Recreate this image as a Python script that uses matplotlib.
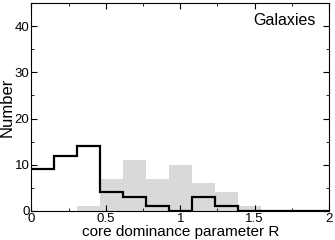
import numpy as np
import matplotlib.pyplot as plt
from matplotlib.ticker import MultipleLocator

plt.rcParams['font.family'] = ['Liberation Sans', 'DejaVu Sans']

# bin edges of the histograms (width ~0.154)
bin_width = 0.154
n_bins = 10
edges = np.arange(n_bins + 1) * bin_width

# black outline histogram
counts_line = [9, 12, 14, 4, 3, 1, 0, 3, 1, 0]
# grey filled histogram
counts_fill = [0, 0, 1, 7, 11, 7, 10, 6, 4, 1]

fig = plt.figure(figsize=(3.35, 2.4), dpi=100)
ax = fig.add_axes([0.094, 0.121, 0.888, 0.866])

ax.stairs(counts_fill, edges, fill=True, color='#d9d9d9', linewidth=0)
line_edges = np.append(edges, 2.0)
line_counts = counts_line + [0]
ax.stairs(line_counts, line_edges, baseline=None, color='black', linewidth=1.6)

ax.set_xlim(0, 2)
ax.set_ylim(0, 45)
ax.xaxis.set_major_locator(MultipleLocator(0.5))
ax.xaxis.set_minor_locator(MultipleLocator(0.25))
ax.yaxis.set_major_locator(MultipleLocator(10))
ax.yaxis.set_minor_locator(MultipleLocator(5))
ax.set_xticks([0, 0.5, 1, 1.5, 2])
ax.set_xticklabels(['0', '0.5', '1', '1.5', '2'])
ax.tick_params(which='both', direction='in', top=True, right=True, labelsize=9.5, pad=1.5)
ax.tick_params(which='major', length=4)
ax.tick_params(which='minor', length=2)

ax.set_xlabel('core dominance parameter R', fontsize=11, labelpad=0)
ax.set_ylabel('Number', fontsize=12, labelpad=0)
ax.text(1.91, 41.3, 'Galaxies', fontsize=11.5, ha='right', va='center')

fig.savefig('out.png', dpi=100)
